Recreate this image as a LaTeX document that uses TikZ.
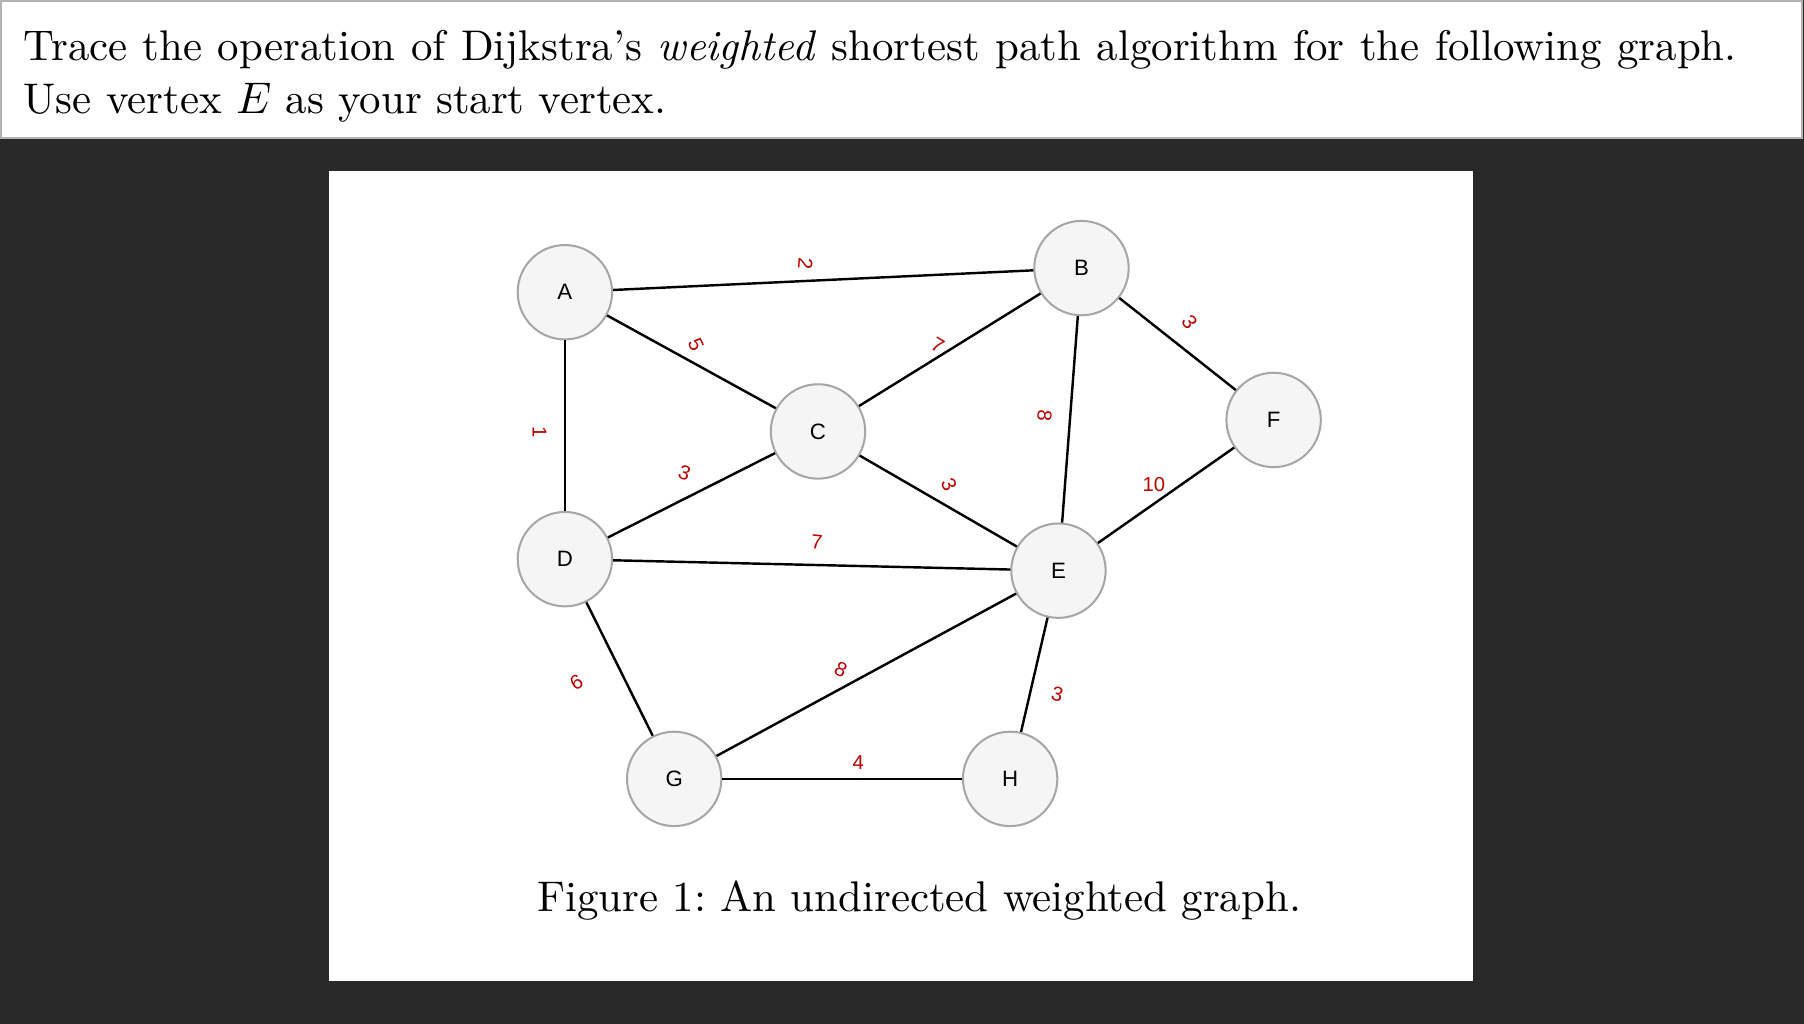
\documentclass[tikz,border=0pt]{standalone}
\usepackage{fontspec}
\newfontfamily\arial{Liberation Sans}
\begin{document}
\begin{tikzpicture}[x=0.01cm,y=-0.01cm,
  vtx/.style={circle,draw=gray!70,fill=gray!8,line width=0.5pt,minimum size=0.82cm,inner sep=0pt,font=\arial\fontsize{5.5}{6}\selectfont},
  wt/.style={text=red!75!black,font=\arial\fontsize{5}{6}\selectfont,inner sep=0pt},
  edge/.style={line width=0.6pt,black}]
\fill[black!84] (0,0) rectangle (1568,890);
\fill[white] (0,0) rectangle (1566,120);
\draw[gray!60,line width=0.4pt] (1,1) rectangle (1566,120);
\node[anchor=north west,text width=14.88cm,align=justify,inner sep=0pt,font=\fontsize{10.6}{12.9}\selectfont] (txt) at (20,26)
 {Trace the operation of Dijkstra's \emph{weighted} shortest path algorithm for the following graph. Use vertex $E$ as your start vertex.};
\fill[white] (286,149) rectangle (1280,853);
\node (A) [vtx] at (491,254) {A};
\node (B) [vtx] at (940,233) {B};
\node (C) [vtx] at (711,375) {C};
\node (D) [vtx] at (491,486) {D};
\node (E) [vtx] at (920,496) {E};
\node (F) [vtx] at (1107,365) {F};
\node (G) [vtx] at (586,677) {G};
\node (H) [vtx] at (878,677) {H};
\draw[edge] (A)--(B); \draw[edge] (A)--(C); \draw[edge] (A)--(D);
\draw[edge] (B)--(C); \draw[edge] (B)--(E); \draw[edge] (B)--(F);
\draw[edge] (C)--(D); \draw[edge] (C)--(E); \draw[edge] (D)--(E);
\draw[edge] (E)--(F); \draw[edge] (D)--(G); \draw[edge] (E)--(G);
\draw[edge] (E)--(H); \draw[edge] (G)--(H);
\node[wt,rotate=-95] (w1) at (700,229) {2};
\node[wt,rotate=-65] (w2) at (605,300) {5};
\node[wt,rotate=-30] (w3) at (815,300) {7};
\node[wt,rotate=-55] (w4) at (1034,280) {3};
\node[wt,rotate=-90] (w5) at (469,376) {1};
\node[wt,rotate=-95] (w6) at (908,361) {8};
\node[wt,rotate=-20] (w7) at (595,411) {3};
\node[wt,rotate=-65] (w8) at (825,421) {3};
\node[wt] (w9) at (1003,421) {10};
\node[wt,rotate=-5] (w10) at (710,471) {7};
\node[wt,rotate=-150] (w11) at (501,593) {9};
\node[wt,rotate=-25] (w12) at (731,582) {8};
\node[wt,rotate=-15] (w13) at (919,603) {3};
\node[wt] (w14) at (746,663) {4};
\node[font=\fontsize{10.6}{12.9}\selectfont,inner sep=0pt] (cap) at (799,783) {Figure 1:\ An undirected weighted graph.};
\end{tikzpicture}
\end{document}
